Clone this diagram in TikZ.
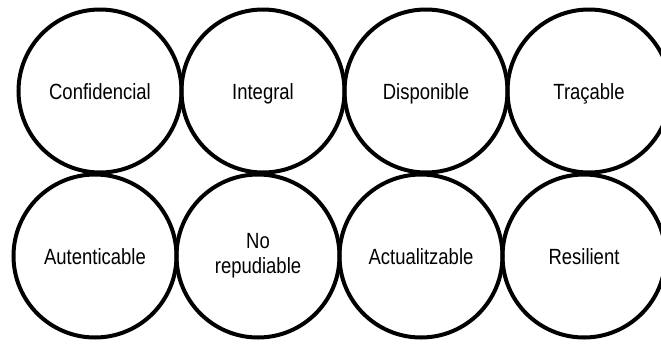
\documentclass[tikz,border=0pt]{standalone}
\usepackage{fontspec}
\setmainfont[FakeStretch=0.84]{Liberation Sans}
\usetikzlibrary{positioning}
\tikzset{
    prop/.style={circle, draw, line width=4pt, minimum size=163pt, inner sep=0pt,
        align=center, font=\fontsize{22}{25}\selectfont,
        text height=16pt, text depth=0pt}
}
\begin{document}
\begin{tikzpicture}[x=1pt, y=-1pt]
    \useasboundingbox (0,0) rectangle (661,343);
    % Nodes
    \node[prop] (conf) at (100,91) {Confidencial};
    \node[prop] (integ) at (263,91) {Integral};
    \node[prop] (disp) at (426,91) {Disponible};
    \node[prop] (trac) at (589,91) {Traçable};

    \node[prop] (aut) at (95,256) {Autenticable};
    \node[prop, text height={}, text depth={}] (norep) at (258,256) {No\\repudiable};
    \node[prop] (act) at (421,256) {Actualitzable};
    \node[prop] (resil) at (584,256) {Resilient};
\end{tikzpicture}
\end{document}
